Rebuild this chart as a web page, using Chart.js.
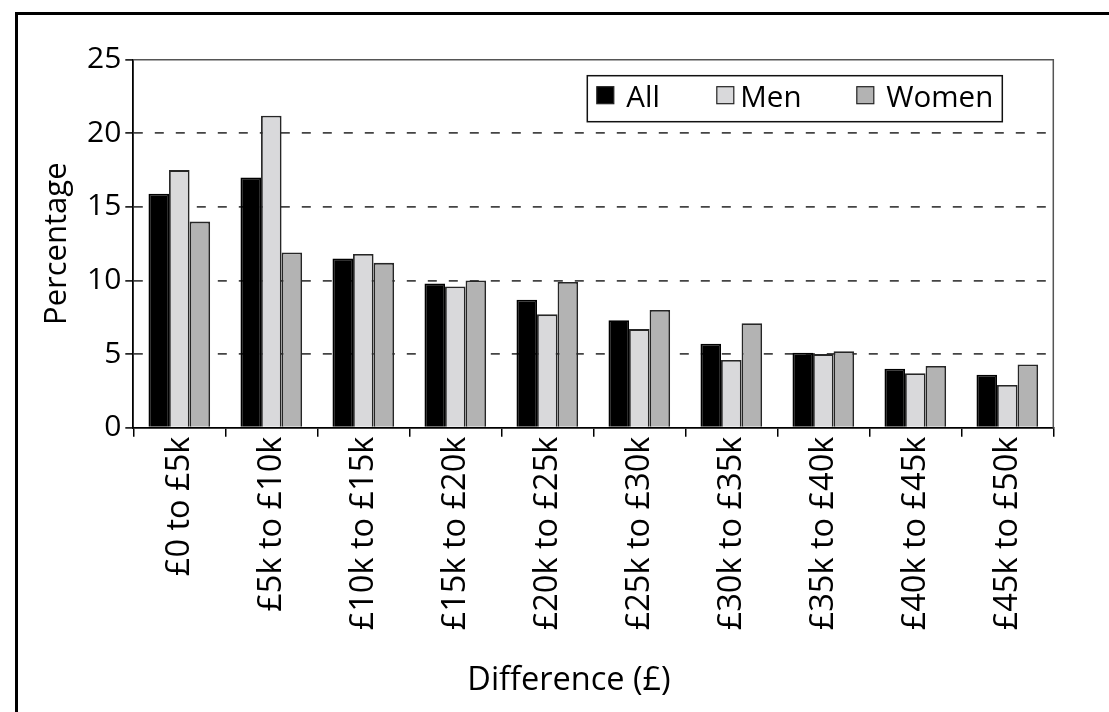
<!DOCTYPE html>
<html>
<head>
<meta charset="utf-8">
<title>Difference (£) by group</title>
<script src="https://cdn.jsdelivr.net/npm/chart.js@4.4.1/dist/chart.umd.min.js"></script>
<style>
  html, body { margin: 0; padding: 0; background: #ffffff; overflow: hidden; }
  #wrap { position: relative; width: 1109px; height: 712px; }
  canvas { display: block; }
</style>
</head>
<body>
<div id="wrap"><canvas id="chart" width="1109" height="712"></canvas></div>
<script>
// Income difference bands
const categories = ['£0 to £5k', '£5k to £10k', '£10k to £15k', '£15k to £20k', '£20k to £25k',
                    '£25k to £30k', '£30k to £35k', '£35k to £40k', '£40k to £45k', '£45k to £50k'];

// Percentage in each band
const allValues   = [15.9, 17.0, 11.5, 9.8, 8.7, 7.3, 5.7, 5.1, 4.0, 3.6];
const menValues   = [17.5, 21.2, 11.8, 9.6, 7.7, 6.7, 4.6, 5.0, 3.7, 2.9];
const womenValues = [14.0, 11.9, 11.2, 10.0, 9.9, 8.0, 7.1, 5.2, 4.2, 4.3];

const yTicks = [0, 5, 10, 15, 20, 25];

const xAxisTitle = 'Difference (£)';

const FONT = '"Open Sans", "Noto Sans", sans-serif';

// Outer frame, plot-area border, x-axis title and the boxed legend
const decorations = {
  id: 'decorations',
  afterDraw(chart) {
    const { ctx, chartArea } = chart;
    ctx.save();
    // outer frame (runs off the right and bottom edges)
    ctx.fillStyle = '#000';
    ctx.fillRect(15, 12, 1200, 3);
    ctx.fillRect(15, 12, 3, 800);

    // top and right edges of the plot area
    ctx.strokeStyle = '#555';
    ctx.lineWidth = 1.5;
    ctx.beginPath();
    ctx.moveTo(chartArea.left, chartArea.top);
    ctx.lineTo(chartArea.right, chartArea.top);
    ctx.lineTo(chartArea.right, chartArea.bottom);
    ctx.stroke();

    // x-axis title, centred under the whole figure
    ctx.fillStyle = '#000';
    ctx.font = '32.5px ' + FONT;
    ctx.textAlign = 'center';
    ctx.textBaseline = 'alphabetic';
    ctx.fillText(xAxisTitle, 569, 690);

    // legend
    const bx = chartArea.right - 466, by = chartArea.top + 16, bw = 415, bh = 46;
    ctx.fillStyle = '#fff';
    ctx.fillRect(bx, by, bw, bh);
    ctx.strokeStyle = '#111';
    ctx.lineWidth = 1.5;
    ctx.strokeRect(bx, by, bw, bh);
    const swatchOffsets = [9.5, 129.5, 269.5];
    const textOffsets = [39, 153, 299];
    ctx.font = '29.5px ' + FONT;
    ctx.textAlign = 'left';
    chart.data.datasets.forEach((ds, i) => {
      const sx = bx + swatchOffsets[i], sy = by + 11;
      ctx.fillStyle = ds.backgroundColor;
      ctx.fillRect(sx, sy, 17, 17);
      ctx.strokeStyle = '#222';
      ctx.lineWidth = 1.2;
      ctx.strokeRect(sx, sy, 17, 17);
      ctx.fillStyle = '#000';
      ctx.fillText(ds.label, bx + textOffsets[i], by + 31.5);
    });
    ctx.restore();
  }
};

new Chart(document.getElementById('chart'), {
  type: 'bar',
  data: {
    labels: categories,
    datasets: [
      { label: 'All',   data: allValues,   backgroundColor: '#000000', borderColor: '#000000' },
      { label: 'Men',   data: menValues,   backgroundColor: '#d9d9db', borderColor: '#262626' },
      { label: 'Women', data: womenValues, backgroundColor: '#b3b3b3', borderColor: '#262626' }
    ]
  },
  options: {
    responsive: false,
    animation: false,
    devicePixelRatio: 1,
    layout: { padding: { left: 0, right: 55.7, top: 59.7, bottom: 0 } },
    datasets: {
      bar: { categoryPercentage: 0.67, barPercentage: 1.0, borderWidth: 1.8 }
    },
    plugins: {
      legend: { display: false },
      tooltip: { enabled: false }
    },
    scales: {
      x: {
        offset: true,
        grid: {
          offset: true,
          drawOnChartArea: false,
          drawTicks: true,
          tickLength: 9,
          color: '#000',
          tickColor: '#000',
          lineWidth: 1.5
        },
        border: { display: true, color: '#000', width: 1.8 },
        ticks: {
          color: '#000',
          font: { family: FONT, size: 32.5 },
          maxRotation: 90,
          minRotation: 90,
          autoSkip: false,
          padding: 0
        },
        title: { display: false },
        afterFit(scale) { scale.height = 712 - 427.7; }
      },
      y: {
        min: 0,
        max: 25,
        afterBuildTicks(scale) { scale.ticks = yTicks.map(v => ({ value: v })); },
        grid: {
          drawTicks: true,
          tickLength: 8,
          lineWidth: 1.8,
          color: (c) => (c.tick && (c.tick.value === 0 || c.tick.value === 25)) ? 'rgba(0,0,0,0)' : '#444',
          tickColor: '#000',
          tickWidth: 1.5
        },
        border: {
          display: true,
          color: '#000',
          width: 1.8,
          dash: (c) => c.type === 'tick' ? [9, 12] : []
        },
        ticks: {
          color: '#000',
          font: { family: FONT, size: 30 },
          padding: 4
        },
        title: {
          display: true,
          text: 'Percentage',
          color: '#000',
          font: { family: FONT, size: 31 },
          padding: { top: 38.9, bottom: 0 }
        },
        afterFit(scale) { scale.width = 133.3; }
      }
    }
  },
  plugins: [decorations]
});
</script>
</body>
</html>
